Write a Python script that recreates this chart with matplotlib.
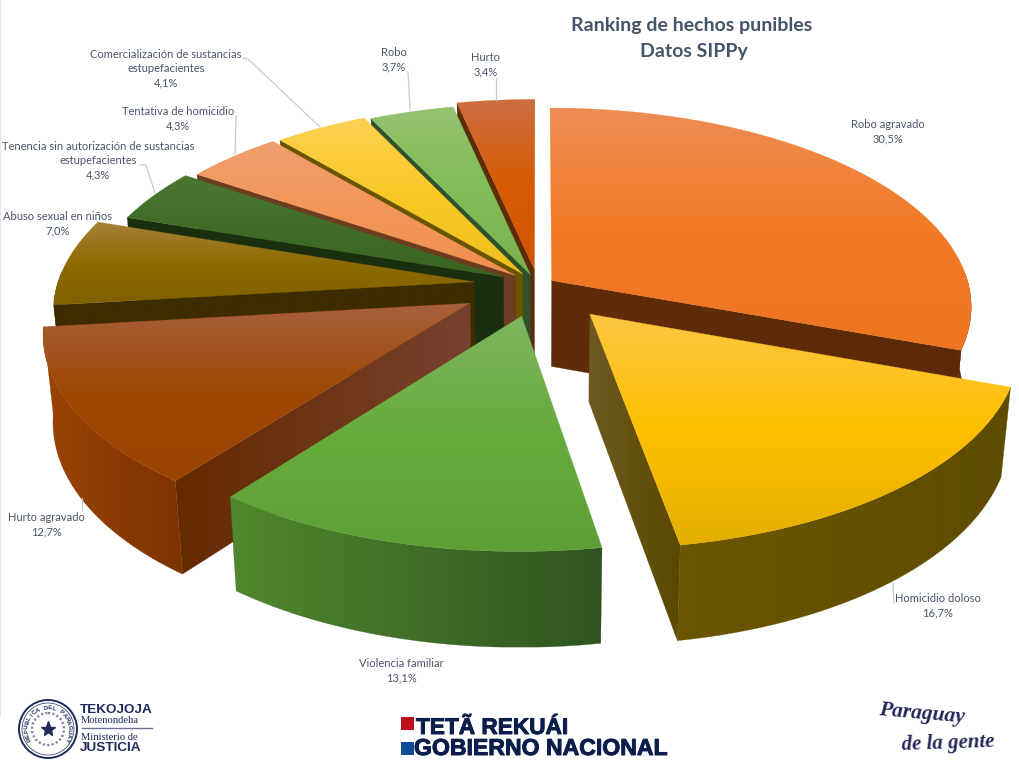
import numpy as np
import matplotlib
matplotlib.use("Agg")
import matplotlib.pyplot as plt
import matplotlib.patheffects as pe
from matplotlib.patches import Polygon, Circle, Rectangle
from matplotlib.colors import LinearSegmentedColormap

# ---- data ----
categories = ["Robo agravado", "Homicidio doloso", "Violencia familiar", "Hurto agravado",
              "Abuso sexual en niños", "Tenencia sin autorización de sustancias\nestupefacientes",
              "Tentativa de homicidio", "Comercialización de sustancias\nestupefacientes",
              "Robo", "Hurto"]
values = [30.5, 16.7, 13.1, 12.7, 7.0, 4.3, 4.3, 4.1, 3.7, 3.4]
explode = [0.04, 0.19, 0.16, 0.185, 0.154, 0.093, 0.073, 0.067, 0.056, 0.08]

top_light = ["#EE8D55", "#FDC646", "#7FB560", "#A9603F", "#A6813A", "#4C7733", "#F09E6E", "#FDD052", "#96C272", "#CB6E42"]
top_main  = ["#F27A26", "#FFC000", "#67AB3C", "#9E4702", "#8E6B00", "#3F6D27", "#F3975A", "#F8C925", "#80BD56", "#D85B03"]
top_low   = ["#EE7420", "#E3AE02", "#5E9F36", "#9A4400", "#806000", "#3A6524", "#F09050", "#F0C020", "#78B450", "#D05500"]
wall_l    = ["#612C0A", "#6B5600", "#50882E", "#9A4406", "#3C2C00", "#1C3210", "#6E3C20", "#6A5400", "#30512A", "#5E2C08"]
wall_r    = ["#5C2A08", "#5E4C00", "#2F5420", "#7C3200", "#3C2C00", "#1C3210", "#6E3C20", "#6A5400", "#30512A", "#5E2C08"]
radial_l  = ["#612C0A", "#6E5A22", "#30511E", "#642A00", "#3C2C00", "#1A2F10", "#6E3C20", "#6A5400", "#30512A", "#5E2C08"]
radial_r  = ["#5C2A08", "#5A4800", "#30511E", "#774230", "#3C2C00", "#1A2F10", "#6E3C20", "#6A5400", "#30512A", "#5E2C08"]

# ---- camera of the 3-D pie, in figure pixels ----
CX, CY, AX_, BY_, PERSP, DEPTH, SHRINK = 538, 285, 417, 196, 0.13, 86, 0.98
TEXT = "#4A5568"
NAVY = "#1F2A5C"


def project(X, Y, low=False):
    den = 1 + PERSP * Y
    f = SHRINK if low else 1.0
    sx = CX + AX_ * X / den * f
    sy = CY - BY_ * Y / den * f + (DEPTH / den if low else 0)
    return np.column_stack([sx, sy])


fig = plt.figure(figsize=(10.2, 7.71), dpi=100)
ax = fig.add_axes([0, 0, 1, 1])
ax.set_xlim(0, 1020)
ax.set_ylim(771, 0)
ax.axis("off")
plt.rcParams["font.family"] = ["Lato", "DejaVu Sans"]


def fill_gradient(pts, colors, z, vertical=False):
    """Fill a polygon with a smooth gradient clipped to its outline."""
    cmap = LinearSegmentedColormap.from_list("g", colors)
    g = np.linspace(0, 1, 256)
    grad = g[:, None] if vertical else g[None, :]
    im = ax.imshow(grad, cmap=cmap, aspect="auto", zorder=z, interpolation="bilinear",
                   extent=[pts[:, 0].min(), pts[:, 0].max(), pts[:, 1].max(), pts[:, 1].min()])
    im.set_clip_path(Polygon(pts, closed=True, transform=ax.transData))
    ax.add_patch(Polygon(pts, closed=True, fc="none", ec=colors[len(colors) // 2], lw=0.2, zorder=z))


fracs = np.array(values) / sum(values)
ends = np.cumsum(fracs) * 2 * np.pi
starts = ends - fracs * 2 * np.pi
mids = (starts + ends) / 2
# back slices first, front slices last
order = np.argsort(-np.cos(mids) * (1 + np.array(explode)))
z = 2
for i in order:
    ex = explode[i] * np.sin(mids[i])
    ey = explode[i] * np.cos(mids[i])
    th = np.linspace(starts[i], ends[i], 100)
    rx, ry = np.sin(th) + ex, np.cos(th) + ey
    apex_top = project(np.array([ex]), np.array([ey]))
    apex_low = project(np.array([ex]), np.array([ey]), low=True)
    rim_top = project(rx, ry)
    rim_low = project(rx, ry, low=True)
    # radial walls: only those that face the viewer
    if np.sin(starts[i]) < -0.02:
        fill_gradient(np.array([apex_top[0], rim_top[0], rim_low[0], apex_low[0]]),
                      [radial_l[i], radial_r[i]], z)
    if np.sin(ends[i]) > 0.02:
        fill_gradient(np.array([apex_top[0], rim_top[-1], rim_low[-1], apex_low[0]]),
                      [radial_l[i], radial_r[i]], z)
    z += 1
    # outer wall: only the front-facing part of the rim
    front = np.cos(th) < 0.05
    if front.sum() > 1:
        fill_gradient(np.vstack([rim_top[front], rim_low[front][::-1]]), [wall_l[i], wall_r[i]], z)
    z += 1
    fill_gradient(np.vstack([apex_top, rim_top]), [top_light[i], top_main[i], top_low[i]], z, vertical=True)
    z += 1
ax.set_xlim(0, 1020)
ax.set_ylim(771, 0)

# ---- data labels ----
label_xy = [(888, 124), (938, 598), (401, 663), (46, 517), (58, 216),
            (98, 146), (178, 111), (166, 54), (394, 52), (486, 57)]
for cat, v, (lx, ly) in zip(categories, values, label_xy):
    txt = cat + "\n" + f"{v:.1f}".replace(".", ",") + "%"
    ax.text(lx, ly - 5, txt, ha="center", va="top", fontsize=8.0, color=TEXT,
            linespacing=1.36, zorder=200)

# ---- leader lines ----
leaders = [[(243, 58), (248, 59), (320, 127)], [(236, 116), (235, 156)],
           [(140, 165), (146, 165), (155, 193)], [(408, 72), (410, 110)], [(496, 78), (496, 100)],
           [(82, 498), (82, 510)], [(893, 583), (894, 603)]]
for l in leaders:
    a = np.array(l)
    ax.plot(a[:, 0], a[:, 1], color="#C5CAD3", lw=0.9, zorder=150)

# ---- title ----
ax.text(692, 25, "Ranking de hechos punibles", ha="center", va="center", fontsize=14,
        fontweight="bold", color="#44546A", zorder=200)
ax.text(694, 52, "Datos SIPPy", ha="center", va="center", fontsize=14,
        fontweight="bold", color="#44546A", zorder=200)

# ---- left margin stripe ----
ax.add_patch(Rectangle((0, 0), 1.2, 717, fc="#E6E6E6", ec="none", zorder=1))

# ---- seal ----
sc = (48, 729)
ax.add_patch(Circle(sc, 29, fc="white", ec=NAVY, lw=1.4, zorder=5))
ax.add_patch(Circle(sc, 26, fc="none", ec=NAVY, lw=0.5, zorder=5))
ax.add_patch(Circle(sc, 16, fc="none", ec="#7E84A3", lw=1.6, ls=(0, (1, 1)), zorder=5))
ax.plot([sc[0]], [sc[1]], marker="*", ms=11, color=NAVY, zorder=6)
seal = "REPUBLICA DEL PARAGUAY"
for k, ch in enumerate(seal):
    a = np.radians(-118 + k * 236 / (len(seal) - 1))
    ax.text(sc[0] + 21.3 * np.sin(a), sc[1] - 21.3 * np.cos(a), ch, fontsize=4.3, fontweight="bold",
            color=NAVY, ha="center", va="center", rotation=-np.degrees(a), zorder=6,
            family=["Liberation Sans"])

ax.text(80, 710, "TEKOJOJA", fontsize=9.7, fontweight="bold", color=NAVY, va="center", family=["Liberation Sans"])
ax.text(81, 720.5, "Motenondeha", fontsize=7.6, color=NAVY, va="center", family=["Liberation Serif"])
ax.plot([82, 152], [728, 728], color="#6A7096", lw=1)
ax.text(81, 737.5, "Ministerio de", fontsize=7.6, color=NAVY, va="center", family=["Liberation Serif"])
ax.text(80, 748, "JUSTICIA", fontsize=9.7, fontweight="bold", color=NAVY, va="center", family=["Liberation Sans"])

# ---- government logo ----
heavy = [pe.withStroke(linewidth=0.7, foreground="#0B1D4A")]
ax.add_patch(Rectangle((401, 717), 13, 13, fc="#C00D1E", ec="none"))
ax.add_patch(Rectangle((401, 742), 13, 13, fc="#0F4C9C", ec="none"))
ax.text(416, 734, "TETÃ REKUÁI", fontsize=16.3, fontweight="bold", color="#0B1D4A", va="baseline",
        family=["Liberation Sans"], path_effects=heavy)
ax.text(414, 755, "GOBIERNO NACIONAL", fontsize=16.6, fontweight="bold", color="#0B1D4A", va="baseline",
        family=["Liberation Sans"], path_effects=heavy)

# ---- slogan ----
ax.text(878, 722, "Paraguay", fontsize=15.5, style="italic", fontweight="bold", color="#232858", va="baseline",
        rotation=-5, family=["Liberation Serif"])
ax.text(901, 750, "de la gente", fontsize=15, style="italic", fontweight="bold", color="#232858", va="baseline",
        rotation=2, family=["Liberation Serif"])

fig.savefig("out.png", dpi=100, facecolor="white")
